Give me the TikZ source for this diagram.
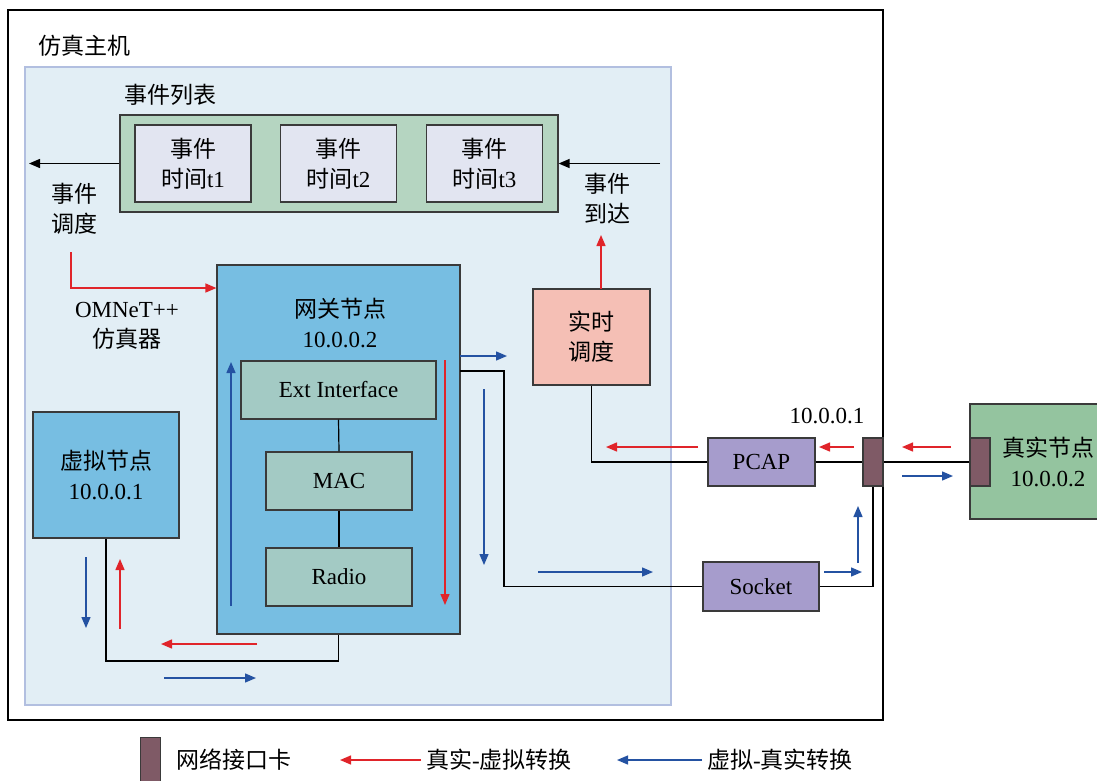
\documentclass[tikz,border=0pt]{standalone}
\usepackage{fontspec}
\setmainfont{Liberation Serif}
\newfontfamily\cjk{Noto Sans CJK SC}
\usetikzlibrary{arrows.meta}
\definecolor{simbg}{HTML}{E2EEF5}
\definecolor{simbd}{HTML}{B2BFE0}
\definecolor{evlist}{HTML}{B5D5C1}
\definecolor{evbox}{HTML}{E2E5F1}
\definecolor{nodeblue}{HTML}{77BEE2}
\definecolor{layer}{HTML}{A3CAC4}
\definecolor{rtpink}{HTML}{F5BFB5}
\definecolor{purp}{HTML}{A69CCC}
\definecolor{nic}{HTML}{7F5A66}
\definecolor{realg}{HTML}{94C49F}
\definecolor{arred}{HTML}{E0242A}
\definecolor{arblue}{HTML}{2452A2}
\definecolor{bd}{HTML}{3A3A3A}
\begin{document}
\begin{tikzpicture}[x=1pt,y=-1pt,
  font=\fontsize{23}{30}\selectfont,
  box/.style={draw=bd, line width=1.2pt, inner sep=0pt, align=center},
  txt/.style={inner sep=0pt, align=center},
  redarr/.style={draw=arred, line width=1.4pt, -{Triangle[length=11pt,width=9pt]}},
  bluearr/.style={draw=arblue, line width=1.4pt, -{Triangle[length=11pt,width=9pt]}},
  blackarr/.style={draw=black, line width=1.4pt, -{Triangle[length=11pt,width=9pt]}},
  wire/.style={draw=black, line width=1.2pt}]
\useasboundingbox (0,0) rectangle (1097,780);
\clip (0,0) rectangle (1097,780);
\fill[white] (0,0) rectangle (1097,780);
% outer host
\draw[line width=1.2pt] (8,10) rectangle (883,720);
\node[txt, anchor=west] (host) at (38,46) {\cjk 仿真主机};
% simulator area
\draw[draw=simbd, fill=simbg, line width=1.2pt] (25,67) rectangle (671,705);
% event list
\node[txt] (evtitle) at (170,95) {\cjk 事件列表};
\node[box, fill=evlist, minimum width=438pt, minimum height=97pt] (evlist) at (339,163.5) {};
\node[box, fill=evbox, minimum width=116pt, minimum height=77pt] (ev1) at (193,163.5) {{\cjk 事件}\\{\cjk 时间}t1};
\node[box, fill=evbox, minimum width=116pt, minimum height=77pt] (ev2) at (338.5,163.5) {{\cjk 事件}\\{\cjk 时间}t2};
\node[box, fill=evbox, minimum width=116pt, minimum height=77pt] (ev3) at (484.5,163.5) {{\cjk 事件}\\{\cjk 时间}t3};
\coordinate (evout) at (29,163.5);
\coordinate (evin) at (660,163.5);
\draw[blackarr] (evlist.west) -- (evout);
\draw[blackarr] (evin) -- (evlist.east);
\node[txt] (sched) at (74,209) {\cjk 事件\\\cjk 调度};
\node[txt] (arrive) at (607,199) {\cjk 事件\\\cjk 到达};
% gateway node
\node[box, fill=nodeblue, minimum width=243pt, minimum height=369pt] (gw) at (338.5,449.5) {};
\node[txt] (gwlabel) at (340,323) {{\cjk 网关节点}\\10.0.0.2};
\node[box, fill=layer, minimum width=195pt, minimum height=58pt] (ext) at (338.5,390) {Ext Interface};
\node[box, fill=layer, minimum width=146pt, minimum height=58pt] (mac) at (339,481) {MAC};
\node[box, fill=layer, minimum width=146pt, minimum height=58pt] (radio) at (339,577) {Radio};
\draw[wire] (ext.south) -- (mac.north);
\draw[wire] (mac.south) -- (radio.north);
\draw[bluearr] (231,606) -- (231,362);
\draw[redarr] (445,360) -- (445,605);
% OMNeT label and arrow
\node[txt] (omnet) at (127,326) {OMNeT++\\\cjk 仿真器};
\draw[redarr] (71,252) -- (71,288) -- (gw.west |- 0,288);
% virtual node
\node[box, fill=nodeblue, minimum width=146pt, minimum height=126pt] (virt) at (106,475) {{\cjk 虚拟节点}\\10.0.0.1};
\coordinate (vbot) at (106,661);
\draw[wire] (virt.south) -- (vbot) -| (gw.south);
\draw[bluearr] (86,557) -- (86,628);
\draw[redarr] (120,629) -- (120,559);
\draw[redarr] (257,644) -- (161,644);
\draw[bluearr] (164,678) -- (256,678);
% real-time scheduler
\node[box, fill=rtpink, minimum width=117pt, minimum height=96pt] (rt) at (591.5,337) {{\cjk 实时}\\\cjk 调度};
\draw[redarr] (601,289) -- (601,235);
% PCAP and socket
\node[box, fill=purp, minimum width=107pt, minimum height=48pt] (pcap) at (761.5,462) {PCAP};
\node[box, fill=purp, minimum width=116pt, minimum height=49pt] (sock) at (761,586.5) {Socket};
\node[box, fill=nic, minimum width=20pt, minimum height=48pt] (nic1) at (873,462) {};
\node[txt, anchor=south] (ip1) at (827,424) {10.0.0.1};
\draw[wire] (rt.south) |- (pcap.west);
\draw[wire] (pcap.east) -- (nic1.west);
\coordinate (gwr) at (460,371);
\coordinate (gwc) at (504,371);
\draw[wire] (gwr) -- (gwc) |- (sock.west);
\draw[wire] (sock.east) -| (nic1.south);
\draw[bluearr] (460,356) -- (507,356);
\draw[bluearr] (484,389) -- (484,565);
\draw[bluearr] (538,572) -- (653,572);
\draw[redarr] (698,447) -- (606,447);
\draw[redarr] (854,447) -- (819,447);
\draw[bluearr] (824,572) -- (862,572);
\draw[bluearr] (858,563) -- (858,506);
% real node
\node[box, fill=realg, minimum width=157pt, minimum height=115pt] (real) at (1048.5,461.5) {};
\node[box, fill=nic, minimum width=20pt, minimum height=48pt] (nic2) at (980,462) {};
\node[txt] (reallabel) at (1048,462) {{\cjk 真实节点}\\10.0.0.2};
\draw[wire] (nic1.east) -- (nic2.west);
\draw[redarr] (951,447) -- (902,447);
\draw[bluearr] (902,476) -- (953,476);
% legend
\node[box, fill=nic, minimum width=20pt, minimum height=46pt, anchor=north west] (lnic) at (140,737) {};
\node[txt, anchor=west] (lnict) at (176,760) {\cjk 网络接口卡};
\draw[redarr] (421,760) -- (340,760);
\node[txt, anchor=west] (lred) at (426,760) {{\cjk 真实}-{\cjk 虚拟转换}};
\draw[bluearr] (702,760) -- (617,760);
\node[txt, anchor=west] (lblue) at (707,760) {{\cjk 虚拟}-{\cjk 真实转换}};
\end{tikzpicture}
\end{document}
